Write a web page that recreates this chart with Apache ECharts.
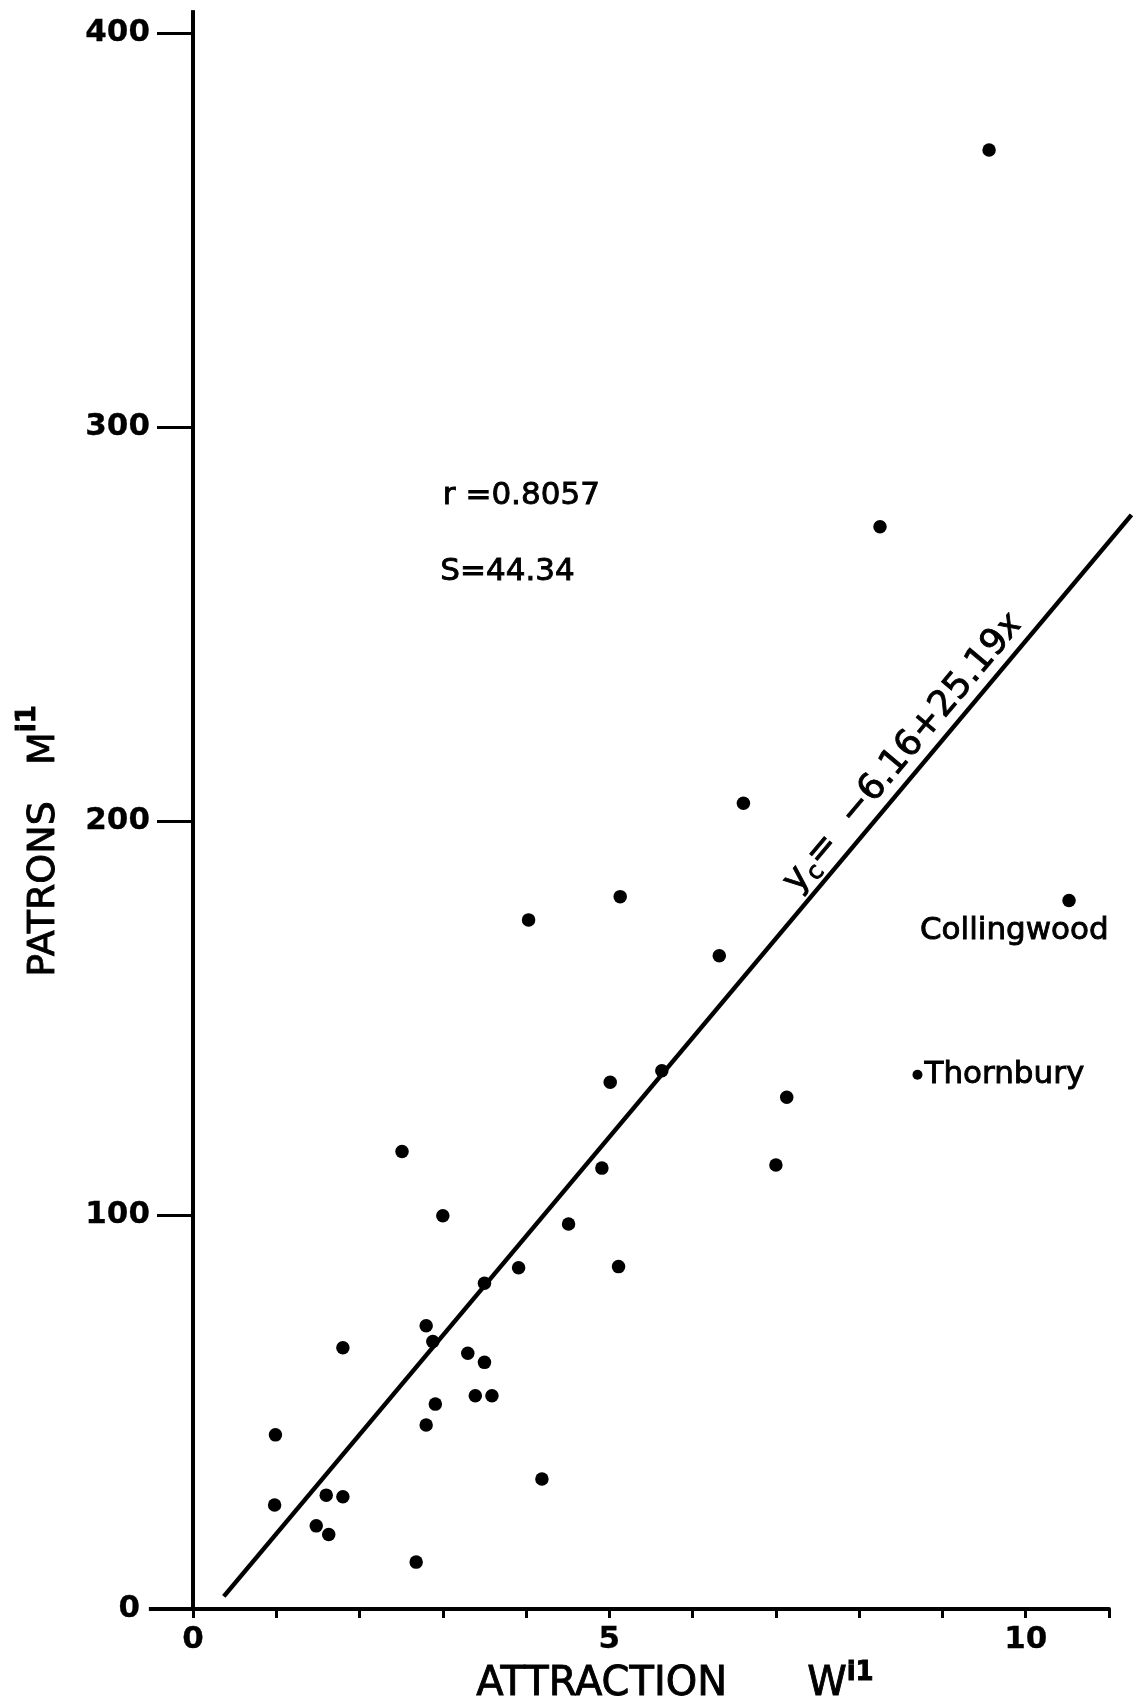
<!DOCTYPE html>
<html>
<head>
<meta charset="utf-8">
<script src="https://cdn.jsdelivr.net/npm/echarts@6/dist/echarts.min.js"></script>
<style>
html,body{margin:0;padding:0;background:#fff;}
#chart{width:1146px;height:1702px;}
</style>
</head>
<body>
<div id="chart"></div>
<script>
// ---- data ----
const attraction = [9.56, 8.25, 6.61, 5.13, 4.03, 6.32, 10.52, 8.70, 5.63, 5.01, 7.13, 7.00, 4.91, 2.51, 3.00, 4.51, 5.11, 3.91, 3.50, 2.80, 2.88, 1.80, 3.30, 3.50, 3.39, 3.59, 2.91, 2.80, 0.99, 4.19, 1.60, 1.80, 0.98, 1.48, 1.63, 2.68];
const patrons    = [370.3, 274.7, 204.5, 180.8, 174.9, 165.8, 179.8, 135.6, 136.6, 133.7, 129.9, 112.7, 111.9, 116.1, 99.8, 97.7, 86.9, 86.6, 82.7, 71.9, 67.9, 66.3, 64.9, 62.6, 54.1, 54.1, 52.0, 46.7, 44.2, 33.0, 28.9, 28.5, 26.4, 21.1, 18.9, 11.9];
const pointNames = ['', '', '', '', '', '', 'Collingwood', 'Thornbury'];
const fitX = [0.37, 11.27];
const fitY = [3.2, 277.7];
const xTickLabels = [0, 5, 10];
const yTickLabels = [0, 100, 200, 300, 400];
const statR = 'r =0.8057';
const statS = 'S=44.34';
const fitText = ['y', 'c', '=  \u22126.16+25.19', 'x'];
// axis lines as drawn in the original (they overshoot the tick range a little)
const yAxisTop = 405.8;
const xAxisLeft = -0.53;

// annotation anchors (data coordinates)
const notePos = {
  r: [3.0, 282.5],
  s: [2.97, 263.2],
  coll: [8.73, 172.2],
  eq: [8.53, 217.2]
};

const FONT = 'DejaVu Sans';
const INK = {color: '#000', textBorderColor: '#000', textBorderWidth: 0.9, opacity: 1};
const chart = echarts.init(document.getElementById('chart'), null, {renderer: 'canvas'});

const points = attraction.map((x, i) => ({value: [x, patrons[i]], name: pointNames[i] || ''}));
const fitLine = fitX.map((x, i) => [x, fitY[i]]);

function polylineSeries(pts, width) {
  return {
    type: 'custom', data: pts, encode: {x: 0, y: 1}, clip: false, silent: true, z: 2,
    renderItem: (params, api) => {
      if (params.dataIndex !== 0) return;
      return {
        type: 'polyline',
        shape: {points: pts.map(p => api.coord(p))},
        style: {stroke: '#000', lineWidth: width, fill: null, lineCap: 'butt'}
      };
    }
  };
}

const option = {
  animation: false,
  backgroundColor: '#fff',
  grid: {left: 193, right: 37, top: 33, bottom: 93, containLabel: false, outerBoundsMode: 'none'},
  xAxis: {
    type: 'value', min: 0, max: 11, interval: 1,
    axisLine: {onZero: false, lineStyle: {color: '#000', width: 4}},
    axisTick: {length: 9, lineStyle: {color: '#000', width: 3}},
    splitLine: {show: false},
    axisLabel: Object.assign({
      margin: 15, fontFamily: FONT, fontSize: 31, fontWeight: 'bold',
      formatter: v => xTickLabels.includes(v) ? String(v) : ''
    }, INK, {textBorderWidth: 0.3}),
    name: '{t|ATTRACTION}{g| }{t|W}{s|i1}',
    nameLocation: 'middle', nameGap: 13,
    nameTextStyle: {
      padding: [0, 0, 0, 48],
      rich: {
        t: Object.assign({fontFamily: FONT, fontSize: 40, lineHeight: 44, verticalAlign: 'bottom'}, INK),
        g: {fontFamily: FONT, fontSize: 40, width: 80},
        s: Object.assign({fontFamily: FONT, fontSize: 26, verticalAlign: 'top', fontWeight: 'bold'}, INK)
      }
    }
  },
  yAxis: {
    type: 'value', min: 0, max: 400, interval: 100,
    axisLine: {onZero: false, lineStyle: {color: '#000', width: 4}},
    axisTick: {length: 36, lineStyle: {color: '#000', width: 3}},
    splitLine: {show: false},
    axisLabel: Object.assign({
      margin: 43, fontFamily: FONT, fontSize: 31, fontWeight: 'bold',
      formatter: v => yTickLabels.includes(v) ? (v === 0 ? '{z|0}' : String(v)) : '',
      rich: {z: Object.assign({fontFamily: FONT, fontSize: 31, fontWeight: 'bold', padding: [0, 10, 0, 0]}, INK, {textBorderWidth: 0.3})}
    }, INK, {textBorderWidth: 0.3}),
    name: '{t|PATRONS   M}{s|i1}',
    nameLocation: 'middle', nameGap: 130,
    nameTextStyle: {
      padding: [0, 40, 0, 0],
      rich: {
        t: Object.assign({fontFamily: FONT, fontSize: 38, lineHeight: 48, verticalAlign: 'bottom'}, INK),
        s: Object.assign({fontFamily: FONT, fontSize: 26, verticalAlign: 'top', fontWeight: 'bold'}, INK)
      }
    }
  },
  series: [
    polylineSeries(fitLine, 4.5),
    polylineSeries([[0, 400], [0, yAxisTop]], 4),
    polylineSeries([[xAxisLeft, 0], [0, 0]], 4),
    {
      type: 'scatter', data: points, z: 3,
      symbol: 'circle',
      symbolSize: (v, p) => p.name === 'Thornbury' ? 10 : 13.5,
      itemStyle: {color: '#000', opacity: 1},
      label: Object.assign({
        show: true,
        formatter: p => p.name === 'Thornbury' ? p.name : '',
        position: 'right', distance: 2,
        fontFamily: FONT, fontSize: 31
      }, INK)
    },
    {
      type: 'scatter', symbolSize: 0, silent: true, z: 4,
      itemStyle: {opacity: 1, color: '#000'},
      data: [
        {value: notePos.r, txt: statR},
        {value: notePos.s, txt: statS},
        {value: notePos.coll, txt: 'Collingwood'}
      ],
      label: Object.assign({
        show: true, position: 'right', distance: 0,
        formatter: p => p.data.txt,
        fontFamily: FONT, fontSize: 31
      }, INK)
    },
    {
      type: 'scatter', symbolSize: 0, silent: true, z: 4,
      itemStyle: {opacity: 1, color: '#000'},
      data: [{value: notePos.eq}],
      label: {
        show: true, position: 'inside', rotate: 50, opacity: 1,
        formatter: '{m|' + fitText[0] + '}{c|' + fitText[1] + '}{m|' + fitText[2] + '}{x|' + fitText[3] + '}',
        rich: {
          m: Object.assign({fontFamily: FONT, fontSize: 36, lineHeight: 44}, INK),
          c: Object.assign({fontFamily: FONT, fontSize: 24, verticalAlign: 'bottom', lineHeight: 44}, INK),
          x: Object.assign({fontFamily: FONT, fontSize: 34, fontStyle: 'italic', lineHeight: 44}, INK)
        }
      }
    }
  ]
};
chart.setOption(option);
</script>
</body>
</html>
